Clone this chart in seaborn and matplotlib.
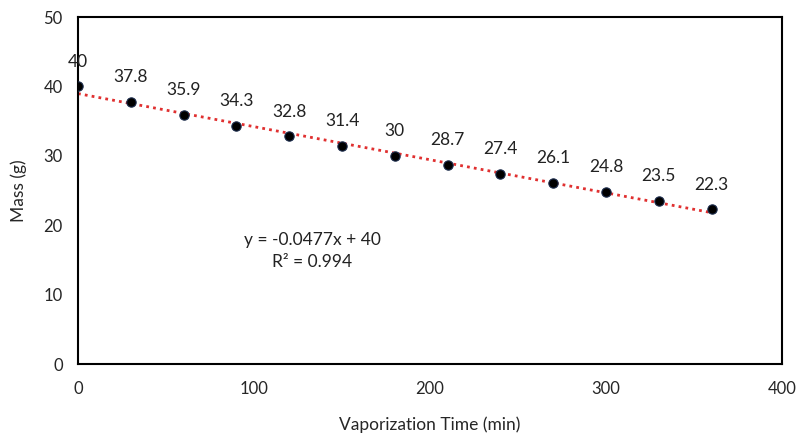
import numpy as np
import pandas as pd
import matplotlib
matplotlib.use("Agg")
import matplotlib.pyplot as plt
import seaborn as sns

time_min = [0, 30, 60, 90, 120, 150, 180, 210, 240, 270, 300, 330, 360]
mass_g = [40, 37.8, 35.9, 34.3, 32.8, 31.4, 30, 28.7, 27.4, 26.1, 24.8, 23.5, 22.3]
point_labels = ["40", "37.8", "35.9", "34.3", "32.8", "31.4", "30", "28.7", "27.4", "26.1", "24.8", "23.5", "22.3"]
equation_text = "y = -0.0477x + 40\nR² = 0.994"

sns.set_style("white")
plt.rcParams['font.family'] = ['Lato', 'DejaVu Sans']

df = pd.DataFrame({"time": time_min, "mass": mass_g})

fig = plt.figure(figsize=(8.01, 4.40), dpi=100)
ax = fig.add_axes([78/801, 1 - 364/440, (782-78)/801, (364-17)/440])

# trendline from linear fit
coef = np.polyfit(df["time"], df["mass"], 1)
xs = np.array([min(time_min), max(time_min)])
ax.plot(xs, np.polyval(coef, xs), linestyle=(0, (1, 1.5)), color="#e03030", linewidth=2, zorder=2)

sns.scatterplot(data=df, x="time", y="mass", ax=ax, color="black", s=45, edgecolor="#1a2a4a", linewidth=0.8, zorder=3)

for x, y, lab in zip(time_min, mass_g, point_labels):
    ax.annotate(lab, (x, y), xytext=(0, 12), textcoords="offset points", ha="center", va="bottom", fontsize=12.5, color="#222222")

ax.text(133, 16.3, equation_text, ha="center", va="center", multialignment="center", fontsize=12.5, color="#222222", linespacing=1.5)

ax.set_xlim(0, 400)
ax.set_ylim(0, 50)
ax.set_xticks([0, 100, 200, 300, 400])
ax.set_yticks([0, 10, 20, 30, 40, 50])
ax.set_xlabel("Vaporization Time (min)", fontsize=12.5, labelpad=14)
ax.set_ylabel("Mass (g)", fontsize=12.5, labelpad=12)
ax.tick_params(axis="x", direction="inout", length=8, labelsize=12, pad=8)
ax.tick_params(axis="y", direction="out", length=5, labelsize=12, pad=6)
for sp in ax.spines.values():
    sp.set_color("black")
    sp.set_linewidth(1.5)

fig.savefig("out.png", dpi=100)
